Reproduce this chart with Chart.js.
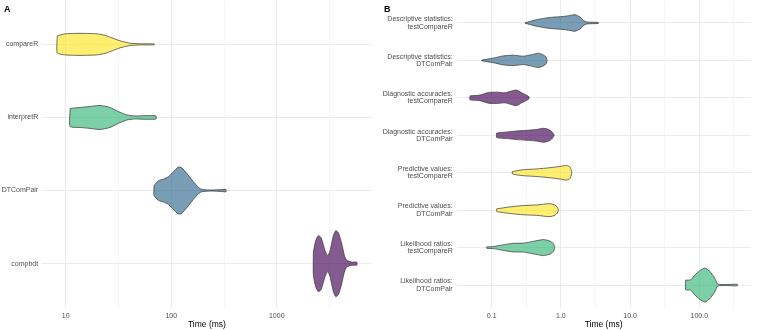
<!doctype html>
<html lang="en">
<head>
  <meta charset="utf-8">
  <title>Benchmark violins</title>
  <style>
    * { margin: 0; padding: 0; }
    body {
      width: 760px;
      height: 330px;
      background: white;
      position: relative;
      overflow: hidden;
      font-family: 'Liberation Sans', Arial, sans-serif;
    }
    .panel { position: absolute; top: 0; height: 330px; }
    #boxA { left: 0; width: 375px; }
    #boxB { left: 375px; width: 385px; }
    .tag {
      position: absolute;
      top: 5px;
      font-weight: bold;
      font-size: 9px;
      line-height: 9px;
      color: black;
    }
  </style>
</head>
<body>
  <div class="panel" id="boxA"><canvas id="chartA"></canvas></div>
  <div class="panel" id="boxB"><canvas id="chartB"></canvas></div>
  <div class="tag" style="left:4px">A</div>
  <div class="tag" style="left:384px">B</div>

  <script src="https://cdn.jsdelivr.net/npm/chart.js"></script>
  <script>
    // ---- panel A: whole package runs (ms) ----
    const catsA = ['compareR', 'interpretR', 'DTComPair', 'compbdt'];
    const coloursA = ['yellow', 'green', 'blue', 'purple'];
    // time points along each violin, and the half width (in category units) there
    const timesA = [
      [8.3, 9.85, 12.2, 15.3, 19.8, 23.6, 27.4, 32.7, 40.6, 50.6, 68.8],
      [11, 13.7, 17, 21.1, 26.3, 31.3, 38, 45.4, 56.3, 63, 71.6],
      [68.7, 75.5, 84.2, 93.9, 104.7, 116.7, 125.8, 140.4, 162.3, 180.9, 194.5, 242, 301, 330],
      [2223, 2344, 2479, 2630, 2870, 3042, 3199, 3440, 3624, 3838, 4130, 4375, 4610, 5140, 5730]
    ];
    const widthsA = [
      [0.116, 0.144, 0.150, 0.150, 0.144, 0.123, 0.089, 0.048, 0.016, 0.008, 0.007],
      [0.123, 0.137, 0.150, 0.164, 0.137, 0.082, 0.034, 0.021, 0.025, 0.025, 0.021],
      [0.068, 0.134, 0.157, 0.189, 0.257, 0.321, 0.312, 0.235, 0.120, 0.044, 0.016, 0.007, 0.014, 0.016],
      [0.160, 0.319, 0.383, 0.356, 0.178, 0.109, 0.178, 0.383, 0.451, 0.424, 0.274, 0.114, 0.045, 0.021, 0.021]
    ];
    const ticksA = [10, 31.62, 100, 316.2, 1000, 3162];
    const tickLabelsA = ['10', '', '100', '', '1000', ''];

    // ---- panel B: single functions (ms) ----
    const catsB = [
      ['Descriptive statistics:', 'testCompareR'],
      ['Descriptive statistics:', 'DTComPair'],
      ['Diagnostic accuracies:', 'testCompareR'],
      ['Diagnostic accuracies:', 'DTComPair'],
      ['Predictive values:', 'testCompareR'],
      ['Predictive values:', 'DTComPair'],
      ['Likelihood ratios:', 'testCompareR'],
      ['Likelihood ratios:', 'DTComPair']
    ];
    const coloursB = ['blue', 'blue', 'purple', 'purple', 'yellow', 'yellow', 'green', 'green'];
    const timesB = [
      [0.303, 0.447, 0.695, 1.08, 1.35, 1.6, 1.89, 2.11, 2.36, 3.47],
      [0.0717, 0.105, 0.147, 0.205, 0.286, 0.378, 0.471, 0.557, 0.61, 0.63],
      [0.0486, 0.0678, 0.0894, 0.118, 0.156, 0.205, 0.23, 0.272, 0.321, 0.346],
      [0.118, 0.165, 0.23, 0.321, 0.447, 0.557, 0.658, 0.736, 0.794],
      [0.199, 0.286, 0.447, 0.695, 0.97, 1.21, 1.35, 1.4, 1.43],
      [0.118, 0.184, 0.286, 0.447, 0.695, 0.822, 0.887, 0.917],
      [0.0847, 0.105, 0.147, 0.205, 0.286, 0.399, 0.557, 0.695, 0.776, 0.813],
      [63.5, 69.4, 75.1, 86.7, 102.4, 120.8, 142.8, 168.6, 184.4, 249, 354]
    ];
    const widthsB = [
      [0.005, 0.088, 0.147, 0.174, 0.200, 0.222, 0.160, 0.072, 0.027, 0.013],
      [0.008, 0.061, 0.120, 0.139, 0.112, 0.152, 0.192, 0.147, 0.093, 0.013],
      [0.053, 0.075, 0.142, 0.152, 0.134, 0.195, 0.208, 0.134, 0.067, 0.027],
      [0.061, 0.088, 0.115, 0.134, 0.155, 0.187, 0.160, 0.101, 0.013],
      [0.032, 0.080, 0.101, 0.134, 0.168, 0.195, 0.160, 0.093, 0.027],
      [0.035, 0.088, 0.123, 0.139, 0.174, 0.134, 0.080, 0.013],
      [0.019, 0.027, 0.075, 0.115, 0.120, 0.166, 0.214, 0.174, 0.107, 0.013],
      [0.126, 0.134, 0.134, 0.267, 0.387, 0.454, 0.361, 0.174, 0.027, 0.013, 0.021]
    ];
    const ticksB = [0.1, 0.3162, 1, 3.162, 10, 31.62, 100, 316.2];
    const tickLabelsB = ['0.1', '', '1.0', '', '10.0', '', '100.0', ''];

    // viridis-ish fills with alpha
    const fills = {
      yellow: 'rgba(253,231,37,0.65)',
      green: 'rgba(53,183,121,0.65)',
      blue: 'rgba(49,104,142,0.65)',
      purple: 'rgba(68,1,84,0.65)'
    };

    // each violin is one closed outline: upper edge left->right, lower edge back
    function violins(times, widths, colours) {
      return times.map((t, i) => {
        const pos = i + 1;
        const w = widths[i];
        const top = t.map((x, j) => ({ x: x, y: pos - w[j] }));
        const bottom = t.map((x, j) => ({ x: x, y: pos + w[j] })).reverse();
        return {
          data: top.concat(bottom, [top[0]]),
          showLine: true,
          fill: 'shape',
          tension: 0.2,
          pointRadius: 0,
          backgroundColor: fills[colours[i]],
          borderColor: '#333333',
          borderWidth: 0.7
        };
      });
    }

    function drawPanel(id, cats, times, widths, colours, xmin, xmax, ticks, tickLabels, yWidth, rightPad) {
      const config = {
        type: 'scatter',
        data: { datasets: violins(times, widths, colours) },
        options: {
          responsive: true,
          maintainAspectRatio: false,
          animation: false,
          events: [],
          layout: { padding: { left: 0, right: rightPad, top: 0.5, bottom: 0 } },
          plugins: { legend: { display: false }, tooltip: { enabled: false } },
          scales: {
            x: {
              type: 'logarithmic',
              min: xmin,
              max: xmax,
              afterBuildTicks: (scale) => { scale.ticks = ticks.map(v => ({ value: v })); },
              afterFit: (scale) => {
                scale.height = 22.5;
                scale.paddingLeft = 0;
                scale.paddingRight = 0;
              },
              border: { display: false },
              grid: {
                color: '#ebebeb',
                drawTicks: false,
                lineWidth: (ctx) => tickLabels[ctx.index] ? 1 : 0.5
              },
              ticks: {
                autoSkip: false,
                maxRotation: 0,
                padding: 4,
                color: '#4d4d4d',
                font: { family: "'Liberation Sans', Arial, sans-serif", size: 7 },
                callback: (value, index) => tickLabels[index]
              },
              title: {
                display: true,
                text: 'Time (ms)',
                color: 'black',
                padding: { top: 0, bottom: 0 },
                font: { family: "'Liberation Sans', Arial, sans-serif", size: 8.5 }
              }
            },
            y: {
              type: 'linear',
              reverse: true,
              min: 0.4,
              max: cats.length + 0.6,
              afterBuildTicks: (scale) => { scale.ticks = cats.map((c, i) => ({ value: i + 1 })); },
              afterFit: (scale) => {
                scale.width = yWidth;
                scale.paddingTop = 0;
                scale.paddingBottom = 0;
              },
              border: { display: false },
              grid: { color: '#ebebeb', drawTicks: false, lineWidth: 1 },
              ticks: {
                autoSkip: false,
                padding: 4,
                color: '#4d4d4d',
                font: { family: "'Liberation Sans', Arial, sans-serif", size: 7, lineHeight: 1.05 },
                callback: (value, index) => cats[index]
              }
            }
          }
        }
      };
      return new Chart(document.getElementById(id), config);
    }

    drawPanel('chartA', catsA, timesA, widthsA, coloursA, 5.98, 7943, ticksA, tickLabelsA, 42.2, 3.3);
    drawPanel('chartB', catsB, timesB, widthsB, coloursB, 0.0312, 552, ticksB, tickLabelsB, 81.7, 9.4);
  </script>
</body>
</html>
